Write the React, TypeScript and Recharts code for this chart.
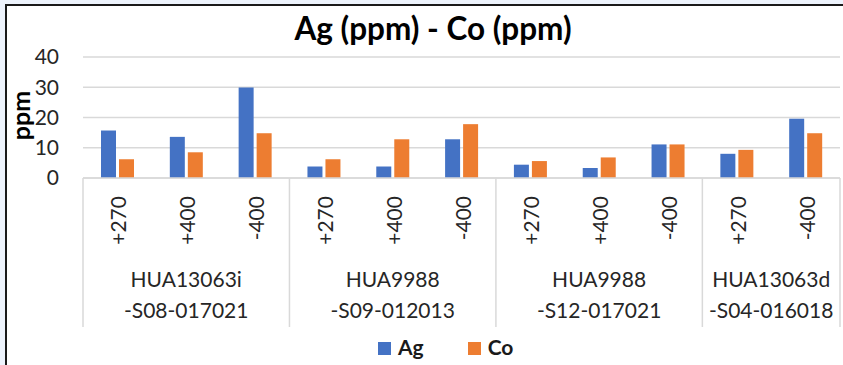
import React from 'react';
import { BarChart, Bar, XAxis, YAxis, CartesianGrid, Legend } from 'recharts';

// ---- data ----
const depths = ['+270', '+400', '-400', '+270', '+400', '-400', '+270', '+400', '-400', '+270', '-400'];
const groupIndex = [0, 0, 0, 1, 1, 1, 2, 2, 2, 3, 3];
const groupNames = ['HUA13063i', 'HUA9988', 'HUA9988', 'HUA13063d'];
const groupCodes = ['-S08-017021', '-S09-012013', '-S12-017021', '-S04-016018'];
const agValues = [15.7, 13.6, 29.9, 3.8, 3.8, 12.8, 4.4, 3.3, 11.1, 8.0, 19.6];
const coValues = [6.2, 8.5, 14.8, 6.2, 12.8, 17.8, 5.6, 6.8, 11.1, 9.3, 14.8];
const yTicks = [0, 10, 20, 30, 40];

const data = depths.map((d, i) => ({ depth: d, Ag: agValues[i], Co: coValues[i] }));

const FONT = 'Lato, "Open Sans", sans-serif';
const GRID = '#d9d9d9';
const TEXT = '#262626';
const AG = '#4472C4';
const CO = '#ED7D31';

function CategoryTick(props: any) {
  const { x, y, payload, index, width, visibleTicksCount } = props;
  const half = payload && payload.offset ? payload.offset : width / visibleTicksCount / 2;
  const g = groupIndex[index];
  const isFirst = index === 0 || groupIndex[index - 1] !== g;
  const isLast = index === depths.length - 1;
  const size = groupIndex.filter((v) => v === g).length;
  const lx = x + 9;
  const ly = y + 18;
  return (
    <g>
      <text
        x={lx}
        y={ly}
        transform={`rotate(-90 ${lx} ${ly})`}
        textAnchor="end"
        fontSize={21}
        fontFamily={FONT}
        fill={TEXT}
      >
        {payload.value}
      </text>
      {isFirst && (
        <g>
          <line x1={x - half} x2={x - half} y1={y} y2={y + 149} stroke={GRID} strokeWidth={1.5} />
          <text x={x + (size - 1) * half} y={y + 109} textAnchor="middle" fontSize={21} fontFamily={FONT} fill={TEXT}>
            {groupNames[g]}
          </text>
          <text x={x + (size - 1) * half} y={y + 140} textAnchor="middle" fontSize={21} fontFamily={FONT} fill={TEXT}>
            {groupCodes[g]}
          </text>
        </g>
      )}
      {isLast && <line x1={x + half} x2={x + half} y1={y} y2={y + 149} stroke={GRID} strokeWidth={1.5} />}
    </g>
  );
}

function YLabel(props: any) {
  const vb = props.viewBox || { x: 0, y: 57, width: 83, height: 121 };
  const cx = vb.x + 30;
  const cy = vb.y + vb.height / 2 - 2;
  return (
    <text
      x={cx}
      y={cy}
      transform={`rotate(-90 ${cx} ${cy})`}
      textAnchor="middle"
      fontSize={25}
      fontWeight="bold"
      fontFamily={FONT}
      fill="#000"
    >
      ppm
    </text>
  );
}

function LegendContent(props: any) {
  const payload = props.payload || [];
  return (
    <div style={{ display: 'flex', alignItems: 'center', fontFamily: FONT, fontSize: 21, fontWeight: 'bold', color: '#1a1a1a' }}>
      {payload.map((p: any) => (
        <div key={p.value} style={{ display: 'flex', alignItems: 'center', marginRight: 44 }}>
          <span style={{ display: 'inline-block', width: 13, height: 13, background: p.color, marginRight: 7, marginTop: 3 }} />
          <span>{p.value}</span>
        </div>
      ))}
    </div>
  );
}

export default function App() {
  return (
    <div style={{ position: 'absolute', left: 0, top: 0, width: 843, height: 365, background: '#edf3fc', overflow: 'hidden' }}>
      <div
        style={{
          position: 'absolute',
          left: 5,
          top: 4,
          width: 838,
          height: 361,
          background: '#fff',
          borderTop: '2px solid #1a1a1a',
          borderLeft: '2px solid #1a1a1a',
          boxSizing: 'border-box',
        }}
      />
      <div style={{ position: 'absolute', left: 0, top: 0 }}>
        <BarChart
          width={843}
          height={365}
          data={data}
          margin={{ top: 57, right: 3, left: 0, bottom: 0 }}
          barGap={3}
        >
          <CartesianGrid vertical={false} stroke={GRID} strokeWidth={1.5} />
          <XAxis
            dataKey="depth"
            height={187}
            interval={0}
            tickLine={false}
            tickSize={0}
            tickMargin={0}
            axisLine={{ stroke: GRID, strokeWidth: 1.5 }}
            tick={<CategoryTick />}
          />
          <YAxis
            width={83}
            domain={[0, 40]}
            ticks={yTicks}
            tickLine={false}
            axisLine={false}
            tickSize={0}
            tickMargin={24}
            tick={{ fontSize: 21, fontFamily: FONT, fill: TEXT }}
            label={<YLabel />}
          />
          <Legend
            verticalAlign="middle"
            align="center"
            layout="horizontal"
            wrapperStyle={{ top: 334, left: 378, width: 220 }}
            content={<LegendContent />}
          />
          <Bar dataKey="Ag" fill={AG} barSize={15} isAnimationActive={false} />
          <Bar dataKey="Co" fill={CO} barSize={15} isAnimationActive={false} />
        </BarChart>
      </div>
      <svg width={843} height={365} style={{ position: 'absolute', left: 0, top: 0, pointerEvents: 'none' }}>
        <text x={433} y={40} textAnchor="middle" fontSize={31.5} fontWeight="bold" fontFamily={FONT} fill="#000">
          Ag (ppm) - Co (ppm)
        </text>
      </svg>
    </div>
  );
}
